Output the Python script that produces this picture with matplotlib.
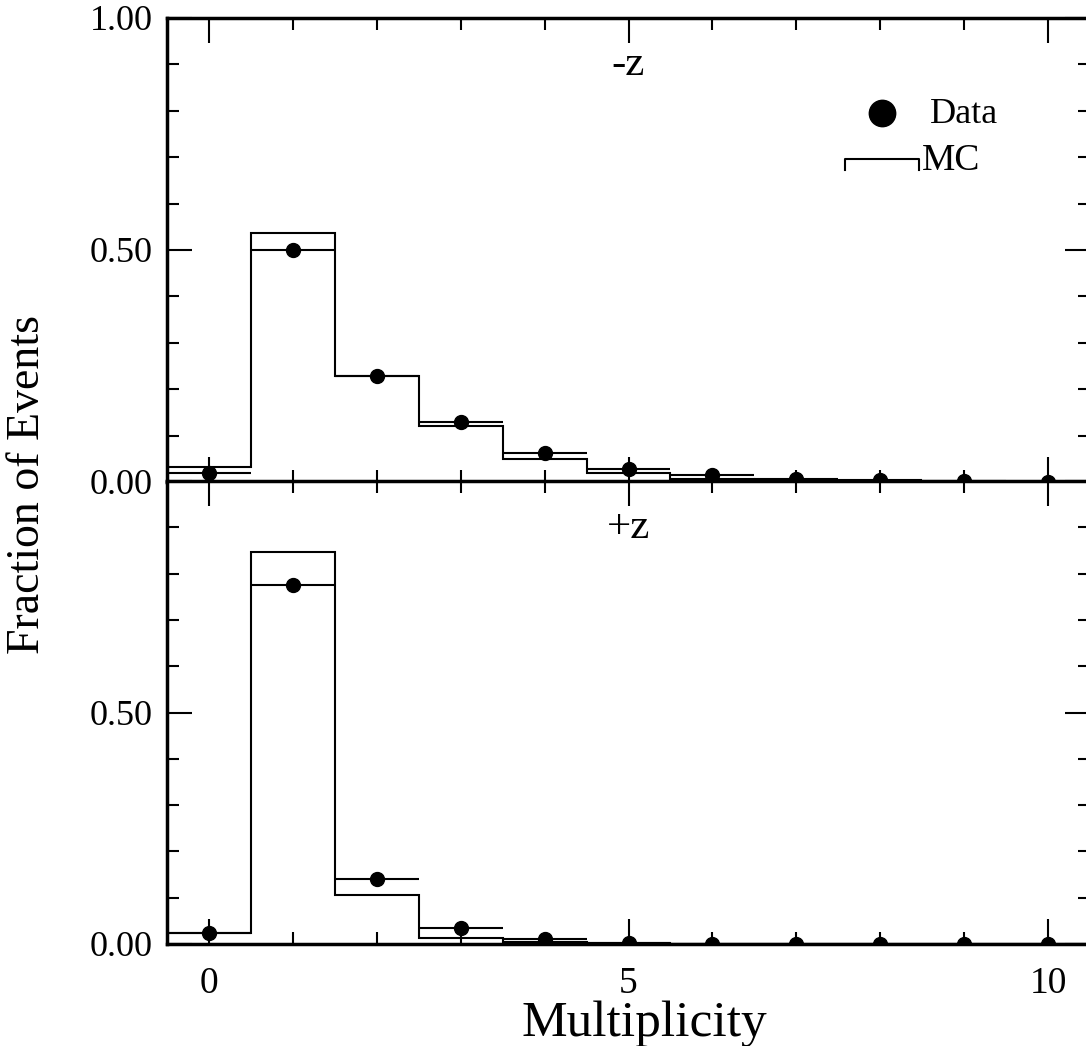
import matplotlib
matplotlib.use('Agg')
import matplotlib.pyplot as plt
import numpy as np
from matplotlib.ticker import MultipleLocator, FixedLocator, FormatStrFormatter

plt.rcParams['font.family'] = ['Liberation Serif', 'DejaVu Serif']

# ---- data ----
multiplicity = [0, 1, 2, 3, 4, 5, 6, 7, 8, 9, 10]
data_minus_z = [0.020, 0.500, 0.228, 0.130, 0.0625, 0.029, 0.015, 0.007, 0.004, 0.0015, 0.0005]
mc_minus_z   = [0.033, 0.5375, 0.228, 0.121, 0.050, 0.020, 0.007, 0.003, 0.0015, 0.0008, 0.0003]
data_plus_z  = [0.023, 0.775, 0.141, 0.034, 0.011, 0.003, 0.001, 0.0005, 0.0003, 0.0002, 0.0001]
mc_plus_z    = [0.023, 0.846, 0.105, 0.012, 0.004, 0.002, 0.001, 0.0005, 0.0002, 0.0001, 0.0]
panel_labels = ['-z', '+z']

W_PX, H_PX = 1086, 1046
fig = plt.figure(figsize=(W_PX / 100, H_PX / 100), dpi=100)

left = 167 / W_PX
width = 923 / W_PX
ax1 = fig.add_axes([left, (H_PX - 482) / H_PX, width, 464 / H_PX])
ax2 = fig.add_axes([left, (H_PX - 944) / H_PX, width, 463 / H_PX])

x = np.array(multiplicity)
edges = np.append(x - 0.5, x[-1] + 0.5)

for ax, dvals, mvals, lab in [(ax1, data_minus_z, mc_minus_z, panel_labels[0]),
                              (ax2, data_plus_z, mc_plus_z, panel_labels[1])]:
    ax.stairs(mvals, edges, baseline=None, color='black', linewidth=1.5)
    ax.errorbar(x, dvals, xerr=0.5, fmt='o', color='black', markersize=10,
                elinewidth=1.5, capsize=0, zorder=3)
    ax.set_xlim(-0.5, 10.5)
    ax.set_ylim(0, 1.0)
    ax.xaxis.set_major_locator(FixedLocator([0, 5, 10]))
    ax.xaxis.set_minor_locator(MultipleLocator(1))
    ax.yaxis.set_minor_locator(MultipleLocator(0.1))
    ax.tick_params(which='both', direction='in', top=True, right=True, width=1.5)
    ax.tick_params(which='major', length=18, labelsize=26, pad=10)
    ax.tick_params(which='minor', length=8.5)
    for sp in ax.spines.values():
        sp.set_linewidth(2.5)
    ax.text(5.0, 0.877, lab, ha='center', va='baseline', fontsize=31,
            transform=ax.get_xaxis_transform())

ax1.yaxis.set_major_locator(FixedLocator([0, 0.5, 1.0]))
ax1.yaxis.set_major_formatter(FormatStrFormatter('%.2f'))
ax1.tick_params(axis='x', labelbottom=False)

ax2.yaxis.set_major_locator(FixedLocator([0, 0.5, 1.0]))
ax2.set_yticklabels(['0.00', '0.50', ''])
ax2.set_xticklabels(['0', '5', '10'])
ax2.tick_params(axis='x', which='major', pad=16, labelsize=27)

# legend (manual, in top panel)
ax1.plot([0.7746], [0.795], 'o', color='black', markersize=19, transform=ax1.transAxes, clip_on=False)
ax1.text(0.8267, 0.774, 'Data', fontsize=26, va='baseline', ha='left', transform=ax1.transAxes)
ax1.plot([0.7346, 0.7346, 0.8147, 0.8147], [0.672, 0.696, 0.696, 0.672], color='black',
         linewidth=1.5, transform=ax1.transAxes)
ax1.text(0.818, 0.672, 'MC', fontsize=27, va='baseline', ha='left', transform=ax1.transAxes)

fig.text(644 / W_PX, (H_PX - 1036) / H_PX, 'Multiplicity', fontsize=37, ha='center', va='baseline')
fig.text(28 / W_PX, (H_PX - 485) / H_PX, 'Fraction of Events', fontsize=33, ha='center',
         va='center', rotation=90)

fig.savefig('out.png', dpi=100)
